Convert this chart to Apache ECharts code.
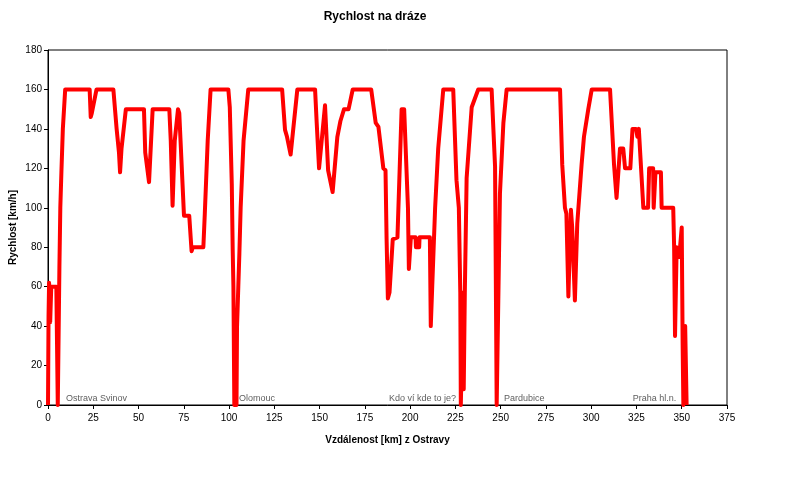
<!DOCTYPE html>
<html>
<head>
<meta charset="utf-8">
<script src="https://cdn.jsdelivr.net/npm/echarts@6/dist/echarts.min.js"></script>
<style>
html,body{margin:0;padding:0;background:#fff;}
#chart{width:800px;height:480px;}
</style>
</head>
<body>
<div id="chart"></div>
<script>
// Distance from Ostrava [km]
const distanceKm = [
  0, 0.3, 0.6, 1.2, 1.8, 4.6, 5.0, 5.4, 6.0, 6.3, 6.8, 7.4, 8.2, 9.5,
  23.0, 23.6, 24.2, 26.8, 36.1, 37.9, 39.2, 39.8, 40.6, 43.0,
  53.0, 53.7, 54.8, 55.8, 57.8, 67.0, 67.8, 68.8, 70.0, 71.8, 72.5, 74.2, 75.1,
  78.0, 78.4, 79.3, 80.0, 85.8, 86.6, 88.2, 89.8, 99.6, 100.4, 101.5, 102.0, 102.4, 102.9,
  104.1, 104.4, 105.1, 105.7, 106.4, 108.0, 110.6, 129.3, 130.9, 132.0, 134.0, 137.7,
  147.5, 148.4, 149.7, 150.3, 153.0, 154.7, 157.2, 159.8, 161.5, 163.5, 166.0, 168.3,
  178.5, 181.0, 182.5, 185.2, 186.4, 187.0, 187.7, 188.6, 190.4, 190.7, 193.0, 195.3, 196.7,
  198.8, 199.3, 200.0, 200.4, 203.0, 203.2, 205.0, 205.2, 210.9, 211.4, 212.2, 213.8, 215.5, 218.3,
  223.8, 225.6, 226.9, 227.7, 228.0, 228.8, 229.2, 229.6, 230.2, 231.2, 234.0, 237.6,
  245.0, 246.9, 247.8, 248.7, 249.6, 251.5, 253.3, 282.8, 284.0, 285.5, 286.3, 287.4,
  288.8, 289.5, 291.0, 292.3, 294.7, 296.0, 298.4, 300.3, 310.4, 312.6, 314.0, 315.9, 317.7,
  318.7, 321.6, 322.8, 324.8, 325.5, 326.3, 327.3, 328.8, 331.4, 332.0, 334.2, 334.5, 335.2, 335.5,
  338.5, 338.9, 345.3, 345.8, 346.3, 347.2, 348.6, 350.0, 350.5, 350.9, 351.6, 351.9, 352.6, 352.7
];
// Speed [km/h]
const speedKmh = [
  0, 45, 62, 42, 60, 60, 30, 0, 0, 70, 100, 118, 140, 160,
  160, 146, 148, 160, 160, 140, 128, 118, 130, 150,
  150, 128, 128, 113, 150, 150, 134, 101, 134, 150, 148, 114, 96,
  96, 97, 78, 80, 80, 97, 134, 160, 160, 151, 112, 79, 60, 0,
  0, 40, 60, 77, 100, 134, 160, 160, 139.5, 136, 127, 160,
  160, 143, 120, 120, 152, 119, 108, 136, 144, 150, 150, 160,
  160, 143, 141, 120, 119, 84, 54, 57, 84, 85, 85, 150, 150,
  100, 69, 69, 85, 85, 80, 80, 85, 85, 40, 60, 100, 130, 160,
  160, 114, 100, 57, 0, 0, 57, 8, 57, 115, 151, 160,
  160, 121, 0, 0, 107, 143, 160, 160, 122, 100, 97, 55,
  99, 90, 53, 92, 122, 136, 150, 160, 160, 122, 105, 130, 130,
  120, 120, 140, 140, 136, 140, 140, 100, 100, 120, 120, 100, 100, 118,
  118, 100, 100, 80, 35, 80, 75, 90, 31, 0, 0, 40, 40, 0
];
// Station labels
const stationNames = ['Ostrava Svinov', 'Olomouc', 'Kdo ví kde to je?', 'Pardubice', 'Praha hl.n.'];
const stationKm = [9.9, 105.5, 188.3, 251.8, 323.0];
const stationLabelY = 3.5;

const xTicks = { min: 0, max: 375, interval: 25 };
const yTicks = { min: 0, max: 180, interval: 20 };

const lineData = distanceKm.map((d, i) => [d, speedKmh[i]]);
const stationData = stationNames.map((n, i) => ({ name: n, value: [stationKm[i], stationLabelY] }));

const chart = echarts.init(document.getElementById('chart'), null, { renderer: 'canvas' });
const font = 'Liberation Sans, Arial, sans-serif';
chart.setOption({
  animation: false,
  backgroundColor: '#ffffff',
  title: {
    text: 'Rychlost na dráze',
    left: 370, top: 6, textAlign: 'center',
    textStyle: { fontFamily: font, fontSize: 12, fontWeight: 'bold', color: '#000' }
  },
  grid: {
    left: 48, right: 73, top: 50, bottom: 75,
    outerBoundsMode: 'none', containLabel: false,
    show: true, borderColor: '#000', borderWidth: 1, backgroundColor: 'transparent'
  },
  xAxis: {
    type: 'value', min: xTicks.min, max: xTicks.max, interval: xTicks.interval,
    name: 'Vzdálenost [km] z Ostravy', nameLocation: 'middle', nameGap: 30,
    nameMoveOverlap: false,
    nameTextStyle: { fontFamily: font, fontSize: 10, fontWeight: 'bold', color: '#000' },
    axisLine: { show: true, lineStyle: { color: '#000', width: 1 } },
    axisTick: { show: true, length: 4, lineStyle: { color: '#000' } },
    axisLabel: { fontFamily: font, fontSize: 10, color: '#000', margin: 8 },
    splitLine: { show: false }
  },
  yAxis: {
    type: 'value', min: yTicks.min, max: yTicks.max, interval: yTicks.interval,
    name: 'Rychlost [km/h]', nameLocation: 'middle', nameGap: 30, nameRotate: 90,
    nameMoveOverlap: false,
    nameTextStyle: { fontFamily: font, fontSize: 10, fontWeight: 'bold', color: '#000' },
    axisLine: { show: true, lineStyle: { color: '#000', width: 1 } },
    axisTick: { show: true, length: 4, lineStyle: { color: '#000' } },
    axisLabel: { fontFamily: font, fontSize: 10, color: '#000', margin: 6 },
    splitLine: { show: false }
  },
  series: [
    {
      type: 'line', data: lineData, showSymbol: false, symbol: 'none',
      lineStyle: { color: '#ff0000', width: 4, join: 'round' },
      clip: true, z: 3
    },
    {
      type: 'scatter', data: stationData, symbolSize: 0, z: 4,
      label: {
        show: true, position: 'right', distance: 0,
        formatter: p => p.name,
        fontFamily: font, fontSize: 9, color: '#333'
      }
    }
  ]
});
</script>
</body>
</html>
